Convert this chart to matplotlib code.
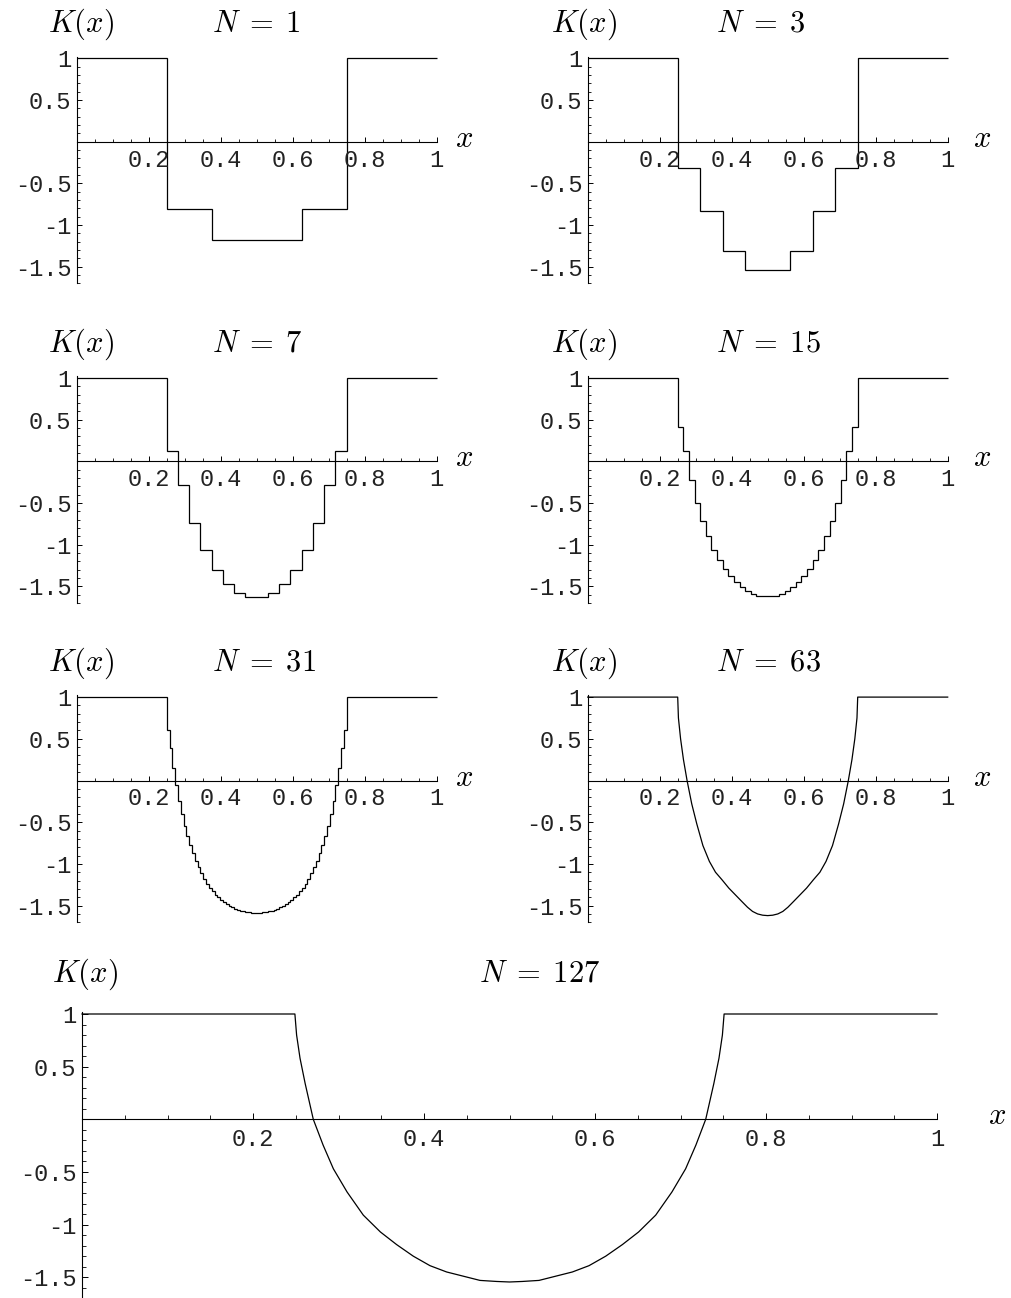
import numpy as np
import matplotlib
matplotlib.use("Agg")
import matplotlib.pyplot as plt
from matplotlib.ticker import MultipleLocator

plt.rcParams['mathtext.fontset'] = 'cm'

# step levels inside [0.25, 0.75], equal-width steps
levels_1 = [-0.81, -1.18, -1.18, -0.81]
levels_3 = [-0.32, -0.83, -1.31, -1.54, -1.54, -1.31, -0.83, -0.32]
levels_7 = [0.12, -0.29, -0.74, -1.06, -1.30, -1.47, -1.58, -1.63,
            -1.63, -1.58, -1.47, -1.30, -1.06, -0.74, -0.29, 0.12]
levels_15 = [0.41, 0.12, -0.23, -0.50, -0.72, -0.90, -1.06, -1.18,
             -1.29, -1.38, -1.45, -1.51, -1.56, -1.59, -1.61, -1.62,
             -1.62, -1.61, -1.59, -1.56, -1.51, -1.45, -1.38, -1.29,
             -1.18, -1.06, -0.90, -0.72, -0.50, -0.23, 0.12, 0.41]
levels_31 = [0.60, 0.39, 0.15, -0.05, -0.24, -0.40, -0.54, -0.66,
             -0.77, -0.87, -0.96, -1.04, -1.11, -1.18, -1.24, -1.29,
             -1.33, -1.37, -1.40, -1.43, -1.46, -1.48, -1.50, -1.52,
             -1.54, -1.55, -1.56, -1.57, -1.58, -1.58, -1.59, -1.59,
             -1.59, -1.59, -1.58, -1.58, -1.57, -1.56, -1.55, -1.54,
             -1.52, -1.50, -1.48, -1.46, -1.43, -1.40, -1.37, -1.33,
             -1.29, -1.24, -1.18, -1.11, -1.04, -0.96, -0.87, -0.77,
             -0.66, -0.54, -0.40, -0.24, -0.05, 0.15, 0.39, 0.60]

# the finer ones look like curves at this size
x_63 = [0, 0.25, 0.252, 0.258, 0.266, 0.276, 0.289, 0.303, 0.32, 0.338,
        0.355, 0.373, 0.392, 0.41, 0.428, 0.444, 0.458, 0.472, 0.486, 0.5,
        0.514, 0.528, 0.542, 0.556, 0.572, 0.59, 0.608, 0.627, 0.645,
        0.662, 0.68, 0.697, 0.711, 0.724, 0.734, 0.742, 0.748, 0.75, 1]
y_63 = [1, 1, 0.75, 0.50, 0.25, 0.0, -0.28, -0.52, -0.78, -0.97,
        -1.10, -1.19, -1.29, -1.37, -1.45, -1.52, -1.57, -1.60, -1.615, -1.62,
        -1.615, -1.60, -1.57, -1.52, -1.45, -1.37, -1.29, -1.19, -1.10,
        -0.97, -0.78, -0.52, -0.28, 0.0, 0.25, 0.50, 0.75, 1, 1]
x_127 = [0, 0.249, 0.251, 0.255, 0.261, 0.2705, 0.282, 0.294, 0.310, 0.329,
         0.349, 0.368, 0.3875, 0.407, 0.4265, 0.446, 0.4655, 0.485, 0.5,
         0.515, 0.5345, 0.554, 0.5735, 0.593, 0.6125, 0.632, 0.651, 0.671,
         0.690, 0.706, 0.718, 0.7295, 0.739, 0.745, 0.749, 0.751, 1]
y_127 = [1, 1, 0.80, 0.58, 0.34, 0.0, -0.245, -0.47, -0.69, -0.91,
         -1.07, -1.19, -1.30, -1.39, -1.45, -1.49, -1.53, -1.54, -1.545,
         -1.54, -1.53, -1.49, -1.45, -1.39, -1.30, -1.19, -1.07, -0.91,
         -0.69, -0.47, -0.245, 0.0, 0.34, 0.58, 0.80, 1, 1]

W, H = 1011, 1298
fig = plt.figure(figsize=(W / 100, H / 100), dpi=100)

TICKFONT = 'Liberation Mono'
LABSIZE = 22


def make_axes(left, right, y0, unit, big=False):
    top = y0 - 1.02 * unit
    bot = y0 + 1.70 * unit
    ax = fig.add_axes([left / W, 1 - bot / H, (right - left) / W, (bot - top) / H])
    ax.set_xlim(0, 1)
    ax.set_ylim(-1.70, 1.02)
    ax.spines['top'].set_visible(False)
    ax.spines['right'].set_visible(False)
    ax.spines['bottom'].set_position(('data', 0))
    for s in ('left', 'bottom'):
        ax.spines[s].set_linewidth(0.8)
    ax.set_xticks([0.2, 0.4, 0.6, 0.8, 1])
    ax.set_xticklabels(['0.2', '0.4', '0.6', '0.8', '1'])
    ax.set_yticks([-1.5, -1, -0.5, 0.5, 1])
    ax.set_yticklabels(['-1.5', '-1', '-0.5', '0.5', '1'])
    ax.xaxis.set_minor_locator(MultipleLocator(0.05))
    ax.yaxis.set_minor_locator(MultipleLocator(0.1))
    L = 4.5 if big else 3.5
    ax.tick_params(which='major', direction='in', length=L, width=0.7,
                   labelsize=17, pad=4)
    ax.tick_params(axis='x', which='major', pad=6 if big else 5)
    ax.tick_params(which='minor', direction='in', length=L * 0.65, width=0.6)
    for lab in ax.get_xticklabels() + ax.get_yticklabels():
        lab.set_fontfamily(TICKFONT)
        lab.set_color('#222222')
    ax.patch.set_visible(False)
    return ax


def steps(ax, levels):
    edges = np.linspace(0.25, 0.75, len(levels) + 1)
    vals = [1] + list(levels) + [1]
    ed = [0] + list(edges) + [1]
    ax.stairs(vals, ed, baseline=None, color='k', lw=0.9, clip_on=False)


def titles(kx, nx, xx, y0, off, n):
    fig.text(kx / W, 1 - (y0 - off) / H, r'$K(x)$', fontsize=LABSIZE, va='baseline')
    fig.text(nx / W, 1 - (y0 - off) / H, r'$N\;=\;%d$' % n, fontsize=LABSIZE,
             va='baseline')
    fig.text(xx / W, 1 - (y0 + 5) / H, r'$x$', fontsize=LABSIZE, va='baseline')


rows = [141.7, 461.3, 780.5]
unit = 83.4
cols = [(76.7, 436.7), (587.7, 947.7)]
klefts = [48, 551]
nlefts = [212, 716]
xlabs = [455, 973]

panels = [(levels_1, 1), (levels_3, 3), (levels_7, 7), (levels_15, 15),
          (levels_31, 31), (None, 63)]

for i, (lev, n) in enumerate(panels):
    r, c = divmod(i, 2)
    ax = make_axes(cols[c][0], cols[c][1], rows[r], unit)
    if lev is not None:
        steps(ax, lev)
    else:
        ax.plot(x_63, y_63, color='k', lw=0.9, clip_on=False)
    titles(klefts[c], nlefts[c], xlabs[c], rows[r], 110, n)

# bottom panel
y0b = 1119.3
ax = make_axes(82, 937, y0b, 105.3, big=True)
ax.plot(x_127, y_127, color='k', lw=0.9, clip_on=False)
titles(52, 479, 988, y0b, 137.6, 127)

fig.savefig('out.png', dpi=100)
